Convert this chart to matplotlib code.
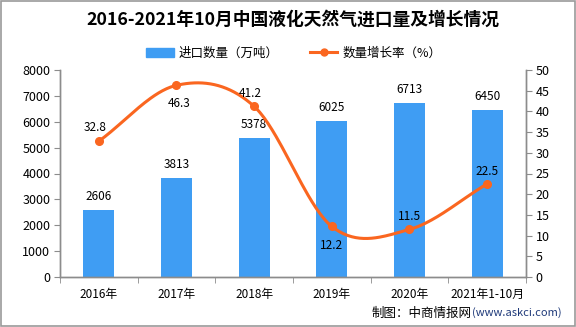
import numpy as np
import matplotlib
matplotlib.use("Agg")
import matplotlib.pyplot as plt
from matplotlib.patches import Rectangle
from matplotlib.lines import Line2D

plt.rcParams['font.family'] = ['Noto Sans CJK SC', 'DejaVu Sans']

categories = ['2016年', '2017年', '2018年', '2019年', '2020年', '2021年1-10月']
volume = [2606, 3813, 5378, 6025, 6713, 6450]
growth = [32.8, 46.3, 41.2, 12.2, 11.5, 22.5]
# label vertical offsets (points) for growth labels
growth_label_dy = [10, -13, 9, -14, 9, 9]
growth_label_dx = [-3, 2, -3, 0, 0, 0]

title = '2016-2021年10月中国液化天然气进口量及增长情况'
bar_name = '进口数量（万吨）'
line_name = '数量增长率（%）'

bar_color = '#3F9DF3'
line_color = '#FA6620'
axis_color = '#8C8C8C'


def smooth_path(ys, n=40):
    ys = np.asarray(ys, float)
    k = len(ys)
    m = np.zeros(k)
    m[0] = ys[1] - ys[0]
    m[-1] = ys[-1] - ys[-2]
    m[1:-1] = (ys[2:] - ys[:-2]) / 2.0
    xs_out, ys_out = [], []
    for i in range(k - 1):
        t = np.linspace(0, 1, n)
        h00 = 2 * t**3 - 3 * t**2 + 1
        h10 = t**3 - 2 * t**2 + t
        h01 = -2 * t**3 + 3 * t**2
        h11 = t**3 - t**2
        yy = h00 * ys[i] + h10 * m[i] + h01 * ys[i + 1] + h11 * m[i + 1]
        xs_out.append(i + t)
        ys_out.append(yy)
    return np.concatenate(xs_out), np.concatenate(ys_out)


fig = plt.figure(figsize=(5.76, 3.27), dpi=100)
fig.patches.append(Rectangle((0.001, 0.002), 0.997, 0.995, transform=fig.transFigure,
                             fill=False, edgecolor='#9A9A9A', linewidth=1.2))

ax = fig.add_axes([60 / 576, 1 - 277 / 327, 466 / 576, 207 / 327])
ax2 = ax.twinx()

x = np.arange(len(categories))
ax.bar(x, volume, width=0.4, color=bar_color, zorder=2)
for xi, v in zip(x, volume):
    ax.annotate(str(v), (xi, v), xytext=(0, 5), textcoords='offset points',
                ha='center', va='bottom', fontsize=8.5, color='black')

ax.set_xlim(-0.5, len(categories) - 0.5)
ax.set_ylim(0, 8000)
ax.set_yticks(range(0, 8001, 1000))
ax.set_xticks(x)
ax.set_xticklabels(categories, fontsize=8.5)
ax.set_xticks(np.arange(-0.5, len(categories), 1.0), minor=True)
ax.tick_params(axis='x', which='major', length=0, pad=8)
ax.tick_params(axis='x', which='minor', length=4, color=axis_color, direction='out')
ax.tick_params(axis='y', length=4, color=axis_color, labelsize=9, pad=3)

ax2.set_ylim(0, 50)
ax2.set_yticks(range(0, 51, 5))
ax2.tick_params(axis='y', length=4, color=axis_color, labelsize=9, pad=3)

for a in (ax, ax2):
    for s in ('top',):
        a.spines[s].set_visible(False)
    for s in ('left', 'right', 'bottom'):
        a.spines[s].set_color(axis_color)
        a.spines[s].set_linewidth(1.0)

sx, sy = smooth_path(growth)
ax2.plot(sx, sy, color=line_color, linewidth=2.2, zorder=3, solid_capstyle='round')
ax2.plot(x, growth, 'o', color=line_color, markersize=5.5, zorder=4)
for xi, g, dy, dx in zip(x, growth, growth_label_dy, growth_label_dx):
    ax2.annotate(f'{g:.1f}', (xi, g), xytext=(dx, dy), textcoords='offset points',
                 ha='center', va='center', fontsize=8.5, color='black', zorder=5)

fig.text(0.508, 1 - 20 / 327, title, ha='center', va='center', fontsize=12.8,
         fontweight='bold', color='black')

handles = [Rectangle((0, 0), 1, 1, color=bar_color),
           Line2D([0], [0], color=line_color, linewidth=2.2, marker='o', markersize=5)]
fig.legend(handles, [bar_name, line_name], loc='center', bbox_to_anchor=(0.51, 1 - 53 / 327),
           ncol=2, frameon=False, fontsize=9, handlelength=2.2, columnspacing=2.5,
           handletextpad=0.4)

split = 472 / 576
fig.text(split, 1 - 313 / 327, '制图：中商情报网', ha='right', va='center', fontsize=9, color='black')
fig.text(split, 1 - 313 / 327, '(www.askci.com)', ha='left', va='center', fontsize=8,
         color='#1F3A7A')

fig.savefig('out.png', dpi=100)
